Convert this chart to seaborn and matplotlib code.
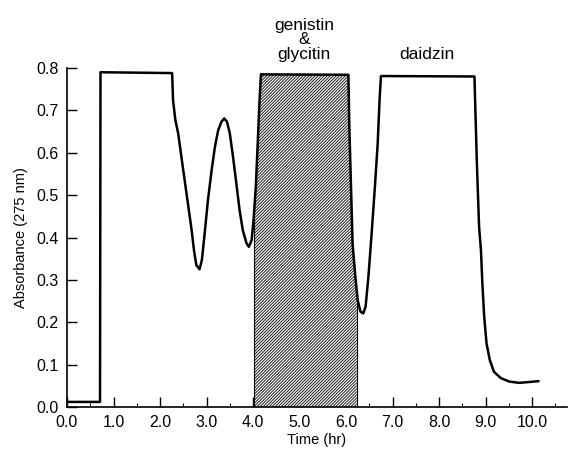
import matplotlib
matplotlib.use("Agg")
import matplotlib.pyplot as plt
import seaborn as sns
import numpy as np
import pandas as pd
from matplotlib.ticker import MultipleLocator

time_hr = [0.00, 0.71, 0.72,
           2.26, 2.28, 2.33, 2.39, 2.46, 2.53, 2.60, 2.68, 2.73, 2.78, 2.85, 2.90, 2.96,
           3.03, 3.11, 3.18, 3.25, 3.32, 3.38, 3.44, 3.50, 3.57, 3.64, 3.71, 3.78, 3.86,
           3.91, 3.97, 4.01, 4.06, 4.10, 4.14, 4.17,
           6.05, 6.07, 6.11, 6.14, 6.20, 6.25, 6.31, 6.37, 6.42, 6.48, 6.55, 6.62, 6.68,
           6.72, 6.75,
           8.76, 8.81, 8.86, 8.90, 8.93, 8.97, 9.02, 9.09, 9.18, 9.33, 9.51, 9.72, 9.94, 10.14]
absorbance = [0.012, 0.012, 0.790,
              0.788, 0.724, 0.677, 0.646, 0.590, 0.535, 0.480, 0.417, 0.370, 0.335, 0.325, 0.347, 0.410,
              0.488, 0.559, 0.614, 0.653, 0.673, 0.681, 0.673, 0.646, 0.590, 0.528, 0.465, 0.417, 0.386,
              0.378, 0.394, 0.441, 0.520, 0.622, 0.724, 0.785,
              0.784, 0.661, 0.504, 0.386, 0.307, 0.252, 0.225, 0.221, 0.237, 0.307, 0.410, 0.520, 0.622,
              0.724, 0.781,
              0.780, 0.583, 0.425, 0.370, 0.292, 0.213, 0.150, 0.111, 0.083, 0.068, 0.060, 0.057, 0.059, 0.061]

hatch_start, hatch_end = 4.03, 6.23
peak_labels = ["genistin\n&\nglycitin", "daidzin"]
label_x = [5.1, 7.73]
label_y = [0.815, 0.815]
x_ticks = [0, 1, 2, 3, 4, 5, 6, 7, 8, 9, 10]
y_ticks = [0.0, 0.1, 0.2, 0.3, 0.4, 0.5, 0.6, 0.7, 0.8]

df = pd.DataFrame({"Time (hr)": time_hr, "Absorbance (275 nm)": absorbance})

sns.set_style("ticks")
plt.rcParams["font.family"] = ["Liberation Sans", "DejaVu Sans"]
plt.rcParams["hatch.linewidth"] = 0.7
for k in ["text.color", "axes.labelcolor", "xtick.color", "ytick.color", "axes.edgecolor"]:
    plt.rcParams[k] = "black"

fig = plt.figure(figsize=(5.69, 4.53), dpi=100)
ax = fig.add_axes([67/569, 46/453, 500/569, 339/453])

# hatched region under the curve
xs = np.array(time_hr)
ys = np.array(absorbance)
xf = np.concatenate(([hatch_start], xs[(xs > hatch_start) & (xs < hatch_end)], [hatch_end]))
yf = np.interp(xf, xs, ys)
ax.fill_between(xf, 0, yf, facecolor="white", edgecolor="#1a1a1a", hatch="/" * 11, linewidth=0)
ax.plot([hatch_start, hatch_start], [0, np.interp(hatch_start, xs, ys)], color="black", lw=0.8)
ax.plot([hatch_end, hatch_end], [0, np.interp(hatch_end, xs, ys)], color="black", lw=0.8)

sns.lineplot(data=df, x="Time (hr)", y="Absorbance (275 nm)", sort=False, estimator=None,
             color="black", linewidth=1.8, ax=ax)

for t, x, y in zip(peak_labels, label_x, label_y):
    ax.text(x, y, t, ha="center", va="bottom", fontsize=12.5, linespacing=0.95, clip_on=False)

ax.set_xlim(0, 10.75)
ax.set_ylim(0, 0.8)
ax.set_xticks(x_ticks)
ax.set_xticklabels([f"{v:.1f}" for v in x_ticks], fontsize=11.5)
ax.set_yticks(y_ticks)
ax.set_yticklabels([f"{v:.1f}" for v in y_ticks], fontsize=11.5)
ax.xaxis.set_minor_locator(MultipleLocator(0.5))
ax.tick_params(axis="both", which="major", direction="in", length=7, width=1, pad=6, color="black")
ax.tick_params(axis="x", which="minor", direction="in", length=3, width=0.8)
ax.set_xlabel("Time (hr)", fontsize=10.5, labelpad=2)
ax.set_ylabel("Absorbance (275 nm)", fontsize=10.5, labelpad=6)
sns.despine(ax=ax)
for s in ["left", "bottom"]:
    ax.spines[s].set_linewidth(1.2)
    ax.spines[s].set_color("black")

fig.savefig("out.png", dpi=100)
